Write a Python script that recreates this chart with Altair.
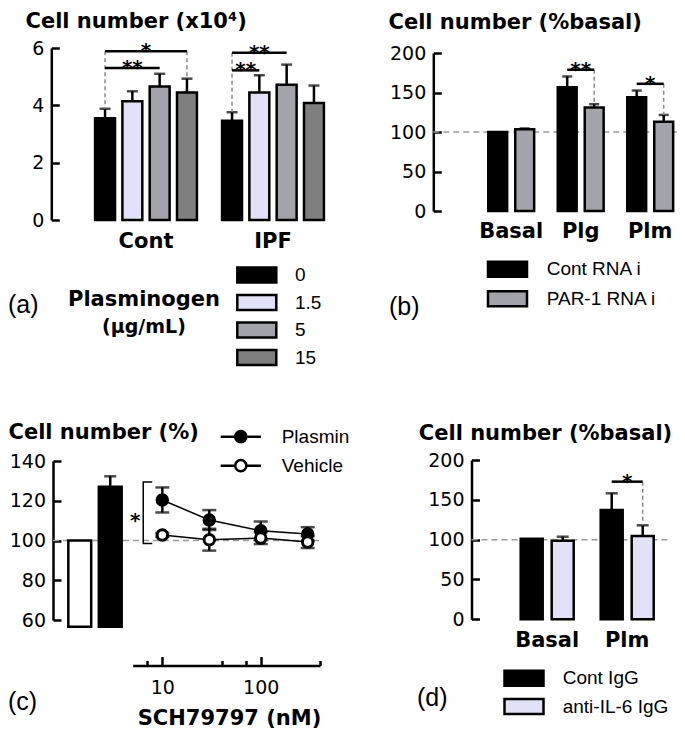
import altair as alt
import pandas as pd

W, H = 669, 720
BOLD = "DejaVu Sans"
REG = "Liberation Sans"
TICKFONT = "DejaVu Sans"
INK = "#000000"
REF_GREY = "#9a9a9a"
DROP_GREY = "#8a8a8a"
RECT_PATH = "M-2.6,-1H2.6V1H-2.6Z"
PIN_PATH = "M-3.6,0H-1M1,0H3.6M-1,0A1,1,0,1,0,1,0A1,1,0,1,0,-1,0Z"
REF_LEVEL = 100

# ---------------- (a) Cell number (x10^4) ----------------
A_GROUPS = ["Cont", "IPF"]
A_LEVELS = ["0", "1.5", "5", "15"]
A_COLORS = ["#000000", "#E1E1F7", "#A3A3AB", "#7F7F7F"]
A_CONT_MEAN = [3.55, 4.14, 4.66, 4.45]
A_CONT_SEM = [0.33, 0.35, 0.44, 0.48]
A_IPF_MEAN = [3.46, 4.45, 4.72, 4.08]
A_IPF_SEM = [0.30, 0.60, 0.70, 0.61]
A_TICKS = [0, 2, 4, 6]
A_BRACKETS = [("Cont", "0", "15", 5.89, "*"), ("Cont", "0", "5", 5.30, "**"),
              ("IPF", "0", "5", 5.83, "**"), ("IPF", "0", "1.5", 5.22, "**")]
A_DROPS = [("Cont", "0", 5.89), ("Cont", "15", 5.89), ("IPF", "0", 5.83)]

# ---------------- (b) Cell number (%basal) ----------------
B_GROUPS = ["Basal", "Plg", "Plm"]
B_SERIES = ["Cont RNA i", "PAR-1 RNA i"]
B_COLORS = ["#000000", "#A3A3AB"]
B_CONT_MEAN = [100, 156.8, 144.0]
B_CONT_SEM = [0, 13.5, 8.5]
B_PAR_MEAN = [103.5, 131.0, 113.0]
B_PAR_SEM = [1.0, 4.2, 8.6]
B_TICKS = [0, 50, 100, 150, 200]
B_BRACKETS = [("Plg", "Cont RNA i", "PAR-1 RNA i", 178.8, "**"),
              ("Plm", "Cont RNA i", "PAR-1 RNA i", 161.0, "*")]
B_DROPS = [("Plg", "PAR-1 RNA i", 178.8), ("Plm", "PAR-1 RNA i", 161.0)]

# ---------------- (c) Cell number (%) vs SCH79797 ----------------
C_BAR_SERIES = ["Vehicle", "Plasmin"]
C_BAR_MEAN = [100, 127.0]
C_BAR_SEM = [0, 5.3]
C_BAR_FLOOR = 56.6
C_SERIES = ["Plasmin", "Vehicle"]
C_DOSE = [10, 30, 100, 300]
C_PLASMIN_MEAN = [120.4, 110.3, 104.9, 103.3]
C_PLASMIN_SEM = [6.3, 5.0, 4.6, 3.4]
C_VEHICLE_MEAN = [102.8, 100.4, 101.2, 99.2]
C_VEHICLE_SEM = [1.0, 5.5, 3.0, 3.0]
C_X_DOMAIN = [5, 400]
C_X_TICKS = [7, 10, 40, 70, 100, 400]
C_Y_TICKS = [60, 80, 100, 120, 140]
C_BRACKET_X = [7.9, 6.4, 6.4, 7.9]
C_BRACKET_Y = [129.4, 129.4, 98.5, 98.5]
C_STAR = ("*", 5.3, 110.0)

# ---------------- (d) Cell number (%basal) ----------------
D_GROUPS = ["Basal", "Plm"]
D_SERIES = ["Cont IgG", "anti-IL-6 IgG"]
D_COLORS = ["#000000", "#E1E1F7"]
D_CONT_MEAN = [101.0, 137.2]
D_CONT_SEM = [0, 21.0]
D_ANTI_MEAN = [98.7, 104.6]
D_ANTI_SEM = [5.0, 13.4]
D_TICKS = [0, 50, 100, 150, 200]
D_BRACKETS = [("Plm", "Cont IgG", "anti-IL-6 IgG", 172.8, "*")]
D_DROPS = [("Plm", "anti-IL-6 IgG", 172.8)]

TICK_LEN = 8


def y_axis(values, axis_x, title, title_left, title_base):
    # right-oriented axis so the ticks point into the plot; labels pulled to the left side
    return alt.Axis(
        orient="right", offset=axis_x - W, values=values, grid=False,
        domainColor=INK, domainWidth=2.5, tickColor=INK, tickWidth=2.5,
        tickSize=TICK_LEN, labelPadding=-(TICK_LEN + 7.5), labelAlign="right",
        labelFont=TICKFONT, labelFontSize=19, labelColor=INK,
        labelFlush=False, labelOverlap=False,
        title=title, titleFont=BOLD, titleFontSize=21, titleFontWeight="bold",
        titleColor=INK, titleAngle=0, titleAlign="left", titleBaseline="alphabetic",
        titleX=title_left - axis_x, titleY=title_base,
    )


def cat_axis(base_y, pad):
    return alt.Axis(orient="bottom", offset=base_y - H, domain=False, ticks=False,
                    tickSize=0, labelPadding=pad, labelAngle=0, labelFont=BOLD,
                    labelFontSize=21, labelFontWeight="bold", labelColor=INK, title=None)


def box_legend(lx, ly, row_pad, label_off, sym=RECT_PATH, size=225):
    return alt.Legend(orient="none", legendX=lx, legendY=ly, direction="vertical",
                      title=None, symbolType=sym, symbolSize=size, symbolStrokeColor=INK,
                      symbolStrokeWidth=2.5, symbolOpacity=1, labelFont=REG,
                      labelFontSize=19, labelColor=INK, labelOffset=label_off,
                      rowPadding=row_pad, padding=0, labelLimit=300)


def make_rows(groups, series, means, sems):
    rows = []
    for g, mrow, srow in zip(groups, means, sems):
        for s, m, e in zip(series, mrow, srow):
            rows.append({"group": g, "series": s, "mean": m, "top": m + e, "sem": e})
    return pd.DataFrame(rows)


def grouped_panel(df, groups, series, colors, y_domain, y_ticks, L, brackets, drops,
                  legend, title):
    xs = alt.Scale(domain=groups, range=L["x_range"], paddingInner=L["x_pad"], paddingOuter=0)
    xo = alt.Scale(domain=series, paddingInner=L["off_in"], paddingOuter=L["off_out"])
    ys = alt.Scale(domain=y_domain, range=L["y_range"])
    gstep = (L["x_range"][1] - L["x_range"][0]) / (len(groups) - L["x_pad"])
    band = gstep * (1 - L["x_pad"])
    step = band / (len(series) - L["off_in"] + 2 * L["off_out"])
    xaxis = cat_axis(L["base_y"], L["label_pad"])
    yaxis = y_axis(y_ticks, L["axis_x"], title, L["title_left"], L["title_base"])

    def X():
        return alt.X("group:N", scale=xs, axis=xaxis)

    def O():
        return alt.XOffset("series:N", scale=xo)

    def Y(f):
        return alt.Y(f, scale=ys, axis=yaxis, stack=None)

    layers = []
    if L.get("ref_x"):
        layers.append(alt.Chart(pd.DataFrame({"ref": [REF_LEVEL]})).mark_rule(
            color=REF_GREY, strokeWidth=1.5, strokeDash=[6, 4]).encode(
            y=Y("ref:Q"), x=alt.value(L["ref_x"][0]), x2=alt.value(L["ref_x"][1])))
    layers.append(alt.Chart(df).mark_bar(stroke=INK, strokeWidth=2.5).encode(
        x=X(), xOffset=O(), y=Y("mean:Q"),
        fill=alt.Fill("series:N", scale=alt.Scale(domain=series, range=colors), legend=legend)))
    err_df = df[df["sem"] > 0]
    layers.append(alt.Chart(err_df).mark_rule(color=INK, strokeWidth=2.5).encode(
        x=X(), xOffset=O(), y=Y("mean:Q"), y2="top:Q"))
    layers.append(alt.Chart(err_df).mark_tick(color=INK, thickness=2.5, size=L["cap"],
                                              orient="horizontal").encode(
        x=X(), xOffset=O(), y=Y("top:Q")))
    drop_rows, br_rows = [], []
    for i, (g, s, v) in enumerate(drops):
        top = float(df[(df.group == g) & (df.series == s)]["top"].iloc[0])
        drop_rows += [{"id": i, "group": g, "series": s, "val": v},
                      {"id": i, "group": g, "series": s, "val": top}]
    for i, (g, s0, s1, v, _) in enumerate(brackets):
        br_rows += [{"id": i, "group": g, "series": s0, "val": v},
                    {"id": i, "group": g, "series": s1, "val": v}]
    layers.append(alt.Chart(pd.DataFrame(drop_rows)).mark_line(
        color=DROP_GREY, strokeWidth=1.5, strokeDash=[4, 3]).encode(
        x=X(), xOffset=O(), y=Y("val:Q"), detail="id:N"))
    layers.append(alt.Chart(pd.DataFrame(br_rows)).mark_line(
        color=INK, strokeWidth=2.5).encode(
        x=X(), xOffset=O(), y=Y("val:Q"), detail="id:N"))
    for (g, s0, s1, v, txt) in brackets:
        dx = (series.index(s1) - series.index(s0)) / 2 * step
        layers.append(alt.Chart(pd.DataFrame([{"group": g, "series": s0, "val": v, "t": txt}]))
                      .mark_text(font=BOLD, fontSize=20, fontWeight="bold", dx=dx, dy=6,
                                 align="center", baseline="alphabetic", color=INK)
                      .encode(x=X(), xOffset=O(), y=Y("val:Q"), text="t:N"))
    return alt.layer(*layers)


# ---------- panel (a)
A_L = dict(y_range=[212, 40], x_range=[83.4, 319.6], x_pad=0.14, off_in=0.27, off_out=0.135,
           axis_x=43.3, base_y=212, label_pad=10, title_left=17, title_base=19, cap=11)
panel_a = grouped_panel(make_rows(A_GROUPS, A_LEVELS, [A_CONT_MEAN, A_IPF_MEAN],
                                  [A_CONT_SEM, A_IPF_SEM]),
                        A_GROUPS, A_LEVELS, A_COLORS, [0, 6], A_TICKS, A_L, A_BRACKETS, A_DROPS,
                        box_legend(239.3, 257.5, 2.5, 28.7), "Cell number (x10\u2074)")

# ---------- panel (b)
B_L = dict(y_range=[203, 45], x_range=[476.2, 669.2], x_pad=0.223, off_in=0.3, off_out=0.15,
           axis_x=425.3, base_y=203, label_pad=9, title_left=380, title_base=20, cap=10,
           ref_x=[425.3, 669])
panel_b = grouped_panel(make_rows(B_GROUPS, B_SERIES, list(zip(B_CONT_MEAN, B_PAR_MEAN)),
                                  list(zip(B_CONT_SEM, B_PAR_SEM))),
                        B_GROUPS, B_SERIES, B_COLORS, [0, 200], B_TICKS, B_L, B_BRACKETS, B_DROPS,
                        box_legend(490, 251.7, 4.6, 29.7), "Cell number (%basal)")

# ---------- panel (d)
D_L = dict(y_range=[611.3, 452], x_range=[508.2, 650.2], x_pad=0.225, off_in=0.29, off_out=0.145,
           axis_x=463.5, base_y=611.3, label_pad=10.5, title_left=410.3, title_base=431.3, cap=12,
           ref_x=[463.5, 662])
panel_d = grouped_panel(make_rows(D_GROUPS, D_SERIES, list(zip(D_CONT_MEAN, D_ANTI_MEAN)),
                                  list(zip(D_CONT_SEM, D_ANTI_SEM))),
                        D_GROUPS, D_SERIES, D_COLORS, [0, 200], D_TICKS, D_L, D_BRACKETS, D_DROPS,
                        box_legend(506.5, 660.8, 3.2, 29.2), "Cell number (%basal)")

# ---------- panel (c)
c_y = alt.Scale(domain=[60, 140], range=[612, 453])
c_xb = alt.Scale(domain=C_BAR_SERIES, range=[56.5, 117.5], paddingInner=0.25, paddingOuter=0.125)
c_x = alt.Scale(type="log", domain=C_X_DOMAIN, range=[124.7, 312])
C_AXIS_X = 45
C_XAXIS_Y = 657.5
c_yaxis = y_axis(C_Y_TICKS, C_AXIS_X, "Cell number (%)", 0, 430.3)


def CY(f):
    return alt.Y(f, scale=c_y, axis=c_yaxis, stack=None)


c_bar_df = pd.DataFrame({"series": C_BAR_SERIES, "mean": C_BAR_MEAN, "sem": C_BAR_SEM})
c_bar_df["top"] = c_bar_df["mean"] + c_bar_df["sem"]
c_bar_err = c_bar_df[c_bar_df["sem"] > 0]

c_ref = alt.Chart(pd.DataFrame({"ref": [REF_LEVEL]})).mark_rule(
    color=REF_GREY, strokeWidth=1.5, strokeDash=[6, 4]).encode(
    y=CY("ref:Q"), x=alt.value(C_AXIS_X), x2=alt.value(312))

c_bars = alt.layer(
    alt.Chart(c_bar_df).mark_bar(stroke=INK, strokeWidth=2.5).encode(
        x=alt.X("series:N", scale=c_xb, axis=None),
        y=CY("mean:Q"),
        y2=alt.datum(C_BAR_FLOOR),
        fill=alt.Fill("series:N", scale=alt.Scale(domain=C_BAR_SERIES, range=["#ffffff", "#000000"]),
                      legend=None)),
    alt.Chart(c_bar_err).mark_rule(color=INK, strokeWidth=2.5).encode(
        x=alt.X("series:N", scale=c_xb, axis=None), y=CY("mean:Q"), y2="top:Q"),
    alt.Chart(c_bar_err).mark_tick(color=INK, thickness=2.5, size=12, orient="horizontal").encode(
        x=alt.X("series:N", scale=c_xb, axis=None), y=CY("top:Q")),
)

c_rows = []
for name, means, sems in (("Plasmin", C_PLASMIN_MEAN, C_PLASMIN_SEM),
                          ("Vehicle", C_VEHICLE_MEAN, C_VEHICLE_SEM)):
    for d, m, e in zip(C_DOSE, means, sems):
        c_rows.append({"series": name, "dose": d, "mean": m, "lo": m - e, "hi": m + e})
c_df = pd.DataFrame(c_rows)

MAJOR_TEST = "datum.value == 10 || datum.value == 100"
log_axis = alt.Axis(
    orient="top", offset=-C_XAXIS_Y, values=C_X_TICKS, grid=False,
    domainColor=INK, domainWidth=2.5, tickColor=INK, tickWidth=2.5,
    tickSize={"condition": {"test": MAJOR_TEST, "value": 9}, "value": 5},
    labelPadding=-21.5, labelBaseline="top", labelFont=TICKFONT, labelFontSize=19, labelColor=INK,
    labelFlush=False, labelOverlap=False,
    labelExpr="(" + MAJOR_TEST + ") ? datum.label : ''",
    title="SCH79797 (nM)", titleFont=BOLD, titleFontSize=21, titleFontWeight="bold",
    titleColor=INK, titleAngle=0, titleAlign="center", titleBaseline="alphabetic",
    titleX=221, titleY=58.5,
)


def CX(f):
    return alt.X(f, scale=c_x, axis=log_axis)


c_lines = alt.layer(
    alt.Chart(c_df).mark_line(color=INK, strokeWidth=1.5).encode(
        x=CX("dose:Q"), y=CY("mean:Q"), detail="series:N"),
    alt.Chart(c_df).mark_rule(color=INK, strokeWidth=2.5).encode(
        x=CX("dose:Q"), y=CY("lo:Q"), y2="hi:Q"),
    alt.Chart(c_df).mark_tick(color=INK, thickness=2.5, size=14, orient="horizontal").encode(
        x=CX("dose:Q"), y=CY("hi:Q")),
    alt.Chart(c_df).mark_tick(color=INK, thickness=2.5, size=14, orient="horizontal").encode(
        x=CX("dose:Q"), y=CY("lo:Q")),
    alt.Chart(c_df).mark_point(filled=True, size=110, stroke=INK, strokeWidth=3, opacity=1).encode(
        x=CX("dose:Q"), y=CY("mean:Q"),
        fill=alt.Fill("series:N", scale=alt.Scale(domain=C_SERIES, range=["#000000", "#ffffff"]),
                      legend=box_legend(223.3, 419.2, 6, 31.4, sym=PIN_PATH, size=125))),
    alt.Chart(pd.DataFrame({"bx": C_BRACKET_X, "by": C_BRACKET_Y, "k": list(range(4))})).mark_line(
        color=INK, strokeWidth=1.5).encode(
        x=CX("bx:Q"), y=CY("by:Q"), order="k:Q"),
    alt.Chart(pd.DataFrame({"t": [C_STAR[0]], "sx": [C_STAR[1]], "sy": [C_STAR[2]]})).mark_text(
        font=BOLD, fontSize=20, fontWeight="bold", dy=6, align="center",
        baseline="alphabetic", color=INK).encode(
        x=CX("sx:Q"), y=CY("sy:Q"), text="t:N"),
)

panel_c = alt.layer(c_ref, c_bars, c_lines).resolve_scale(x="independent", fill="independent")

# ---------- free texts
TEXTS = [
    ("(a)", 0, 297, REG, 25, "normal", "left"),
    ("(b)", 381, 298.7, REG, 25, "normal", "left"),
    ("(c)", 0, 693.7, REG, 25, "normal", "left"),
    ("(d)", 409, 690.3, REG, 25, "normal", "left"),
    ("Plasminogen", 136, 292, BOLD, 21, "bold", "center"),
    ("(\u00b5g/mL)", 136, 319.3, BOLD, 19, "bold", "center"),
]
text_layers = [
    alt.Chart(pd.DataFrame({"t": [t]})).mark_text(
        font=f, fontSize=fs, fontWeight=fw, align=al, baseline="middle", color=INK).encode(
        text="t:N", x=alt.value(x), y=alt.value(y))
    for (t, x, y, f, fs, fw, al) in TEXTS
]

chart = alt.layer(panel_a, panel_b, panel_c, panel_d, *text_layers).resolve_scale(
    x="independent", y="independent", xOffset="independent", fill="independent"
).properties(
    width=W, height=H, autosize=alt.AutoSizeParams(type="none"), padding=0, background="white"
).configure_view(stroke=None)

chart.save("out.html", embed_options={"renderer": "svg", "actions": False})
